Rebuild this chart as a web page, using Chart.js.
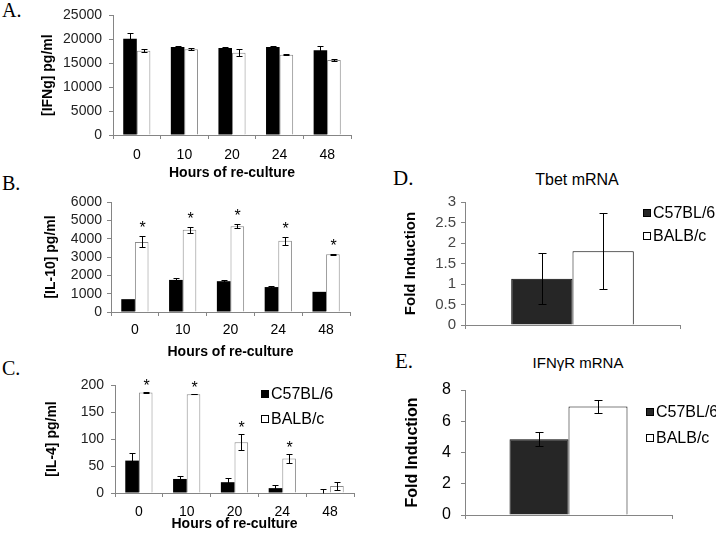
<!DOCTYPE html>
<html>
<head>
<meta charset="utf-8">
<script src="https://cdn.jsdelivr.net/npm/chart.js@4.4.1/dist/chart.umd.min.js"></script>
<style>
  body { margin: 0; background: #fff; width: 716px; height: 535px; position: relative; overflow: hidden; }
  canvas { position: absolute; }
  .letter { position: absolute; font-family: "Liberation Serif", "Times New Roman", serif; font-size: 20px; line-height: 1; color: #000; }
  .ptitle { position: absolute; font-family: "Liberation Sans", Arial, sans-serif; line-height: 1; color: #000; transform: translateX(-50%); white-space: nowrap; }
</style>
</head>
<body>
<div class="letter" style="left:2px; top:0px">A.</div>
<div class="letter" style="left:2px; top:173px">B.</div>
<div class="letter" style="left:2px; top:358px">C.</div>
<div class="letter" style="left:393px; top:168px; font-size:21px">D.</div>
<div class="letter" style="left:395px; top:351px; font-size:21px">E.</div>
<div class="ptitle" style="left:577px; top:172px; font-size:16px">Tbet mRNA</div>
<div class="ptitle" style="left:578px; top:355px; font-size:15px">IFNγR mRNA</div>

<canvas id="chartA" width="360" height="180" style="left:0; top:0"></canvas>
<canvas id="chartB" width="360" height="174" style="left:0; top:185px"></canvas>
<canvas id="chartC" width="360" height="166" style="left:0; top:365px"></canvas>
<canvas id="chartD" width="336" height="180" style="left:380px; top:170px"></canvas>
<canvas id="chartE" width="336" height="185" style="left:380px; top:350px"></canvas>

<script>
// ---- data ----
const hours = ['0', '10', '20', '24', '48'];
const strains = ['C57BL/6', 'BALB/c'];

// A. IFNg
const ifngB6 = [20100, 18400, 18200, 18400, 17700];
const ifngB6Err = [1250, 100, 100, 100, 800];
const ifngBalb = [17600, 17900, 17200, 16800, 15700];
const ifngBalbErr = [300, 200, 700, 100, 250];
const ifngTicks = [0, 5000, 10000, 15000, 20000, 25000];

// B. IL-10
const il10B6 = [700, 1750, 1680, 1360, 1100];
const il10B6Err = [0, 90, 80, 40, 0];
const il10Balb = [3820, 4480, 4680, 3880, 3150];
const il10BalbErr = [300, 180, 110, 200, 20];
const il10Sig = [true, true, true, true, true];
const il10Ticks = [0, 1000, 2000, 3000, 4000, 5000, 6000];

// C. IL-4
const il4B6 = [60, 26, 20, 9, 0];
const il4B6Err = [15, 6, 8, 5, 7];
const il4Balb = [186, 183, 94, 64, 13];
const il4BalbErr = [1, 0.5, 15, 8, 8];
const il4Sig = [true, true, true, true, false];
const il4Ticks = [0, 50, 100, 150, 200];

// D. Tbet mRNA, E. IFNgR mRNA
const tbet = [1.13, 1.8];
const tbetErr = [0.62, 0.92];
const tbetTicks = [0, 0.5, 1, 1.5, 2, 2.5, 3];
const ifngr = [4.85, 6.95];
const ifngrErr = [0.45, 0.4];
const ifngrTicks = [0, 2, 4, 6, 8];

Chart.defaults.font.family = '"Liberation Sans", Arial, sans-serif';
const axisGray = '#858585';

// error bars and significance stars
const errorBars = {
  id: 'errorBars',
  afterDatasetsDraw(chart, args, opts) {
    const ctx = chart.ctx;
    const y = chart.scales.y;
    ctx.save();
    ctx.strokeStyle = '#000';
    ctx.fillStyle = '#000';
    ctx.lineWidth = 1;
    chart.data.datasets.forEach((ds, i) => {
      const meta = chart.getDatasetMeta(i);
      meta.data.forEach((bar, j) => {
        const v = ds.data[j];
        const e = ds.errors ? ds.errors[j] : 0;
        const x = Math.round(bar.x) + 0.5;
        const hi = Math.round(y.getPixelForValue(v + e)) + 0.5;
        if (e) {
          const lowVal = v - e;
          const lo = Math.round(y.getPixelForValue(Math.max(lowVal, y.min))) + 0.5;
          ctx.beginPath();
          ctx.moveTo(x, hi);
          ctx.lineTo(x, lo);
          ctx.moveTo(x - opts.cap, hi);
          ctx.lineTo(x + opts.cap, hi);
          if (lowVal >= y.min) {
            ctx.moveTo(x - opts.cap, lo);
            ctx.lineTo(x + opts.cap, lo);
          }
          ctx.stroke();
        }
        if (ds.stars && ds.stars[j]) {
          ctx.font = '16px "Liberation Sans", Arial, sans-serif';
          ctx.textAlign = 'center';
          ctx.textBaseline = 'alphabetic';
          ctx.fillText('*', x, hi - opts.starGap);
        }
      });
    });
    ctx.restore();
  }
};

// legend with small boxes, placed like the original
const boxLegend = {
  id: 'boxLegend',
  afterDraw(chart, args, opts) {
    if (!opts.show) return;
    const ctx = chart.ctx;
    ctx.save();
    ctx.font = opts.size + 'px "Liberation Sans", Arial, sans-serif';
    ctx.textBaseline = 'middle';
    ctx.textAlign = 'left';
    chart.data.datasets.forEach((ds, i) => {
      const cy = opts.y[i];
      ctx.fillStyle = ds.backgroundColor;
      ctx.fillRect(opts.x, cy - 4, 8, 8);
      ctx.strokeStyle = '#000';
      ctx.lineWidth = 1;
      ctx.strokeRect(opts.x + 0.5, cy - 3.5, 7, 7);
      ctx.fillStyle = '#000';
      ctx.fillText(ds.label, opts.x + 10, cy + 1);
    });
    ctx.restore();
  }
};

function makeChart(id, labels, datasets, p) {
  return new Chart(document.getElementById(id), {
    type: 'bar',
    data: { labels: labels, datasets: datasets },
    options: {
      responsive: false,
      animation: false,
      layout: { padding: { left: p.padL, right: p.padR, top: p.padT, bottom: 0 } },
      datasets: { bar: { categoryPercentage: 0.57, barPercentage: 1 } },
      plugins: {
        legend: { display: false },
        tooltip: { enabled: false },
        errorBars: { cap: p.cap, starGap: p.starGap || 0 },
        boxLegend: p.legend || { show: false }
      },
      scales: {
        x: {
          grid: { offset: true, drawOnChartArea: false, color: axisGray, tickLength: 4 },
          border: { color: axisGray },
          ticks: { color: '#000', font: { size: 14 }, padding: p.xPad || 0, maxRotation: 0 },
          title: {
            display: !!p.xTitle, text: p.xTitle, color: '#000', padding: 0,
            font: { size: 14, weight: 'bold', lineHeight: 1 }
          },
          afterFit(s) { s.height = p.xH; }
        },
        y: {
          min: 0,
          max: p.ticks[p.ticks.length - 1],
          grid: { drawOnChartArea: false, color: axisGray, tickLength: 4 },
          border: { color: axisGray },
          ticks: {
            autoSkip: false, color: p.tickColor || '#222', font: { size: p.tickSize || 14 },
            padding: p.yPad, callback: v => String(v)
          },
          afterBuildTicks(s) { s.ticks = p.ticks.map(v => ({ value: v })); },
          title: {
            display: true, text: p.yTitle, color: '#000', padding: 0,
            font: { size: p.yTitleSize || 14, weight: 'bold' }
          },
          afterFit(s) { s.width = p.yW; }
        }
      }
    },
    plugins: [errorBars, boxLegend]
  });
}

function timeSets(b6, b6Err, balb, balbErr, sig) {
  return [
    { label: strains[0], data: b6, errors: b6Err, backgroundColor: '#000', borderColor: '#000', borderWidth: 0 },
    { label: strains[1], data: balb, errors: balbErr, stars: sig, backgroundColor: '#fff', borderColor: '#8a8a8a', borderWidth: 1 }
  ];
}

function mrnaSets(vals, errs) {
  return [
    { label: strains[0], data: [vals[0]], errors: [errs[0]], backgroundColor: '#262626', borderColor: '#000', borderWidth: 1 },
    { label: strains[1], data: [vals[1]], errors: [errs[1]], backgroundColor: '#fff', borderColor: '#000', borderWidth: 1 }
  ];
}

makeChart('chartA', hours, timeSets(ifngB6, ifngB6Err, ifngBalb, ifngBalbErr, null), {
  padL: 40, padR: 9, padT: 9, yW: 73, xH: 45, xPad: 8, yPad: 7,
  ticks: ifngTicks, yTitle: '[IFNg] pg/ml', xTitle: 'Hours of re-culture', cap: 3
});

makeChart('chartB', hours, timeSets(il10B6, il10B6Err, il10Balb, il10BalbErr, il10Sig), {
  padL: 43, padR: 10, padT: 17, yW: 68, xH: 47, xPad: 6, yPad: 5,
  ticks: il10Ticks, yTitle: '[IL-10] pg/ml', xTitle: 'Hours of re-culture', cap: 3, starGap: 4
});

makeChart('chartC', hours, timeSets(il4B6, il4B6Err, il4Balb, il4BalbErr, il4Sig), {
  padL: 44, padR: 6, padT: 20, yW: 71, xH: 38, xPad: 7, yPad: 7,
  ticks: il4Ticks, yTitle: '[IL-4] pg/ml', xTitle: 'Hours of re-culture', cap: 3, starGap: 2,
  legend: { show: true, x: 261, y: [29, 54], size: 16 }
});

makeChart('chartD', [''], mrnaSets(tbet, tbetErr), {
  padL: 22, padR: 36, padT: 32, yW: 63, xH: 25, yPad: 5,
  ticks: tbetTicks, yTitle: 'Fold Induction', yTitleSize: 15, tickSize: 15, tickColor: '#444', cap: 4,
  legend: { show: true, x: 263, y: [43, 66], size: 16 }
});

makeChart('chartE', [''], mrnaSets(ifngr, ifngrErr), {
  padL: 23, padR: 44, padT: 40, yW: 62, xH: 20, yPad: 10,
  ticks: ifngrTicks, yTitle: 'Fold Induction', yTitleSize: 16, tickSize: 16, tickColor: '#000', cap: 4,
  legend: { show: true, x: 266, y: [62, 88], size: 16 }
});
</script>
</body>
</html>
